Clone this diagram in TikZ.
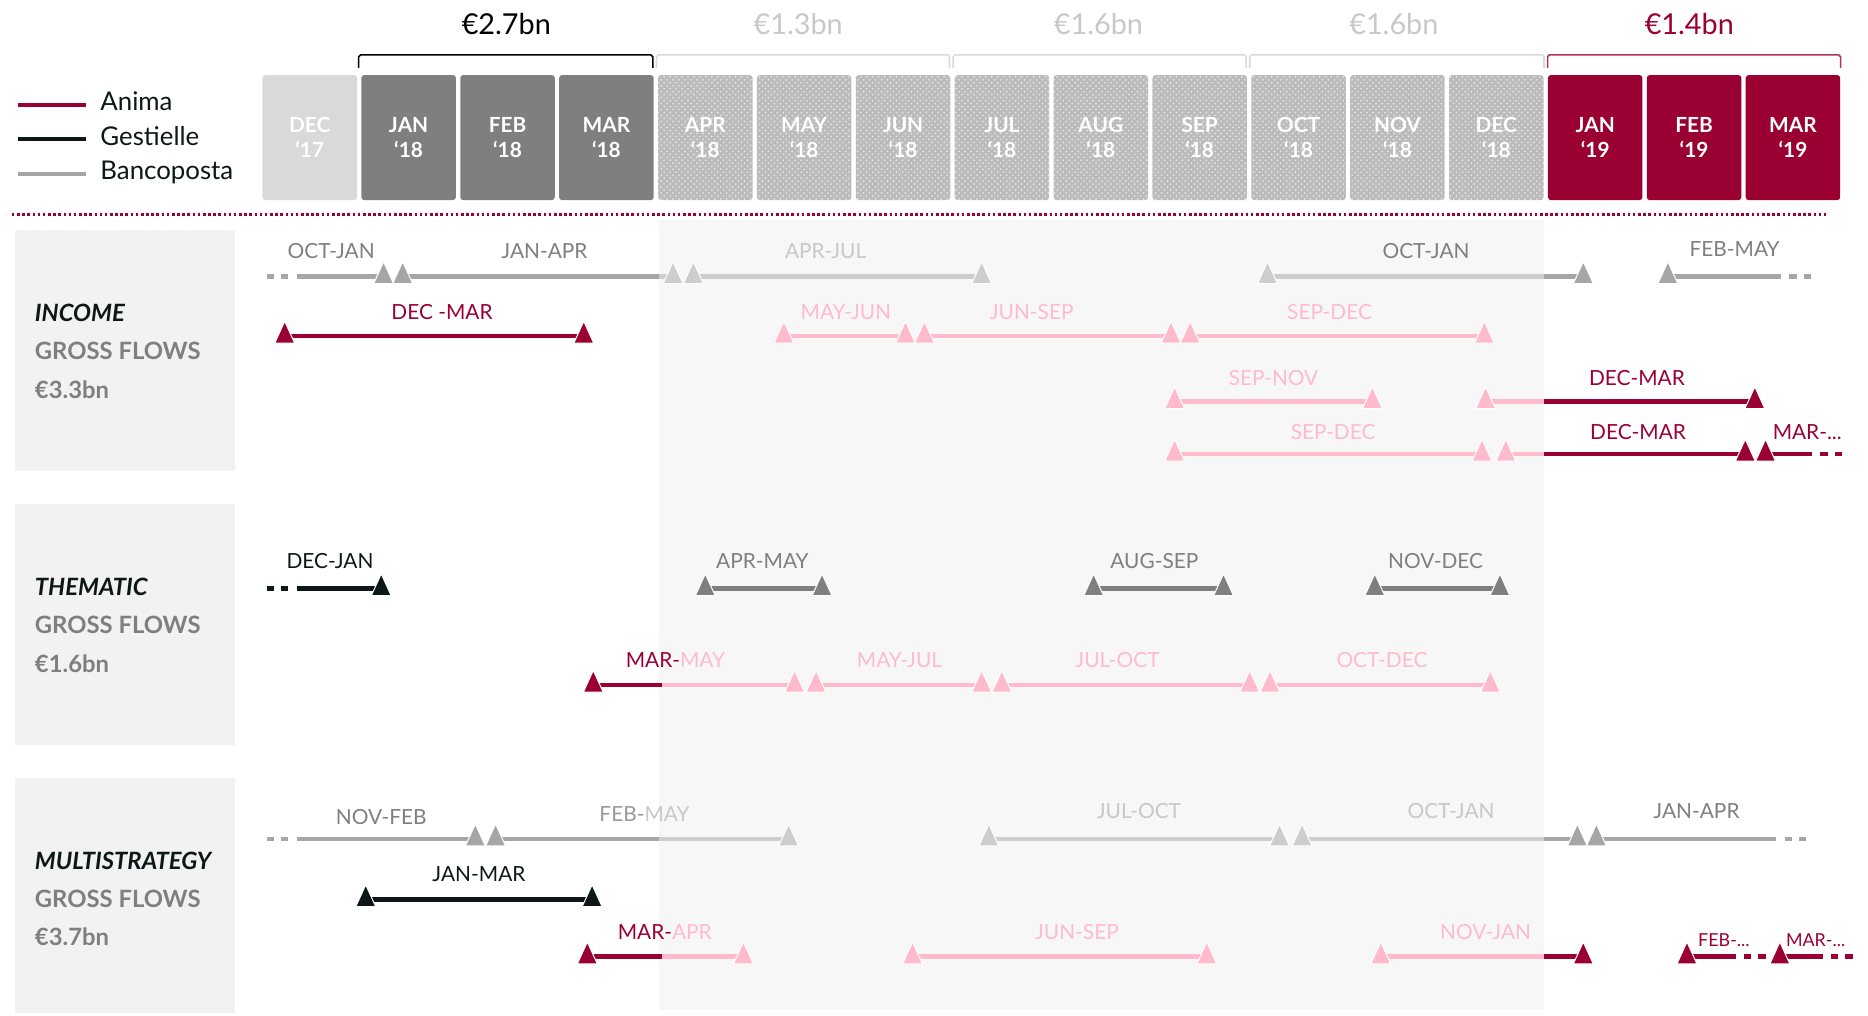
\documentclass[tikz,border=0pt]{standalone}
\usepackage{fontspec}
\setmainfont{Lato}
\usetikzlibrary{patterns}

\definecolor{anima}{HTML}{9B0033}
\definecolor{animafade}{HTML}{FFBBCB}
\definecolor{gest}{HTML}{0E1717}
\definecolor{gestfade}{HTML}{7F7F7F}
\definecolor{banco}{HTML}{A6A6A6}
\definecolor{bancofade}{HTML}{CDCDCD}
\definecolor{txtgray}{HTML}{7F7F7F}
\definecolor{txtfade}{HTML}{C8C8C8}
\definecolor{boxgray}{HTML}{F2F2F2}
\definecolor{monthdark}{HTML}{7F7F7F}
\definecolor{monthlight}{HTML}{D9D9D9}
\definecolor{monthhatch}{HTML}{BBBBBB}
\definecolor{shadebg}{HTML}{F7F7F7}

\newcommand{\flowfont}{\fontsize{10.5}{12}\selectfont}
\newcommand{\tinyflowfont}{\fontsize{9}{10}\selectfont}
\newcommand{\monthfont}{\bfseries\fontsize{10.5}{12.6}\selectfont}
\newcommand{\legfont}{\fontsize{13}{15}\selectfont}
\newcommand{\sumfont}{\fontsize{14.5}{17}\selectfont}
\newcommand{\rowfont}{\bfseries\fontsize{12}{15}\selectfont}

\pgfdeclarelayer{back}
\pgfsetlayers{back,main}

\tikzset{
  tri/.style={rectangle, inner sep=0pt, minimum width=16pt, minimum height=17pt,
    path picture={\fill[#1, draw=white, line width=0.5pt]
      ([yshift=7.4pt]path picture bounding box.center) -- ++(-5pt,-11pt) -- ++(10pt,0pt) -- cycle;}},
  tail/.style={dash pattern=on 3.6pt off 3.6pt on 3.6pt off 4.2pt on 300pt},
  bracket/.style={line width=0.8pt, rounded corners=1pt}
}

\begin{document}
\begin{tikzpicture}[x=0.6pt, y=-0.6pt]
        \tikzstyle{flow}=[line width=2.2pt]
        \tikzstyle{lbl}=[inner sep=0pt, font=\flowfont]
        \tikzstyle{month}=[rectangle, rounded corners=1.5pt, minimum width=47.6pt, minimum height=63pt, inner sep=0pt, align=center, text=white, font=\monthfont]
        \tikzstyle{hatched}=[preaction={fill=monthhatch}, pattern=crosshatch dots, pattern color=black!10]
        \tikzstyle{head}=[inner sep=0pt, font=\sumfont]
        \tikzstyle{rowtxt}=[inner sep=0pt, anchor=base west, font=\rowfont]

        \useasboundingbox (0,0) rectangle (1568,852);

        % shaded months and row panels
        \begin{pgfonlayer}{back}
        \fill[shadebg] (553,185) rectangle (1296,848);
        \end{pgfonlayer}
        \fill[boxgray] (13,193) rectangle (197,395);
        \fill[boxgray] (13,423) rectangle (197,625);
        \fill[boxgray] (13,653) rectangle (197,850);

        % totals
        \node[head, text=black] (sum1) at (425,20) {€2.7bn};
        \node[head, text=txtfade] (sum2) at (670,20) {€1.3bn};
        \node[head, text=txtfade] (sum3) at (922,20) {€1.6bn};
        \node[head, text=txtfade] (sum4) at (1170,20) {€1.6bn};
        \node[head, text=anima] (sum5) at (1418,20) {€1.4bn};
        \draw[bracket, black] (301,57) -- (301,46) -- (548,46) -- (548,57);
        \draw[bracket, monthlight] (551,57) -- (551,46) -- (797,46) -- (797,57);
        \draw[bracket, monthlight] (800,57) -- (800,46) -- (1046,46) -- (1046,57);
        \draw[bracket, monthlight] (1049,57) -- (1049,46) -- (1296,46) -- (1296,57);
        \draw[bracket, anima!80] (1299,57) -- (1299,46) -- (1545,46) -- (1545,57);

        % months
        \node[month, fill=monthlight] (m0) at (260,115.5) {DEC\\‘17};
        \node[month, fill=monthdark] (m1) at (343,115.5) {JAN\\‘18};
        \node[month, fill=monthdark] (m2) at (426,115.5) {FEB\\‘18};
        \node[month, fill=monthdark] (m3) at (509,115.5) {MAR\\‘18};
        \node[month, hatched] (m4) at (592,115.5) {APR\\‘18};
        \node[month, hatched] (m5) at (675,115.5) {MAY\\‘18};
        \node[month, hatched] (m6) at (758,115.5) {JUN\\‘18};
        \node[month, hatched] (m7) at (841,115.5) {JUL\\‘18};
        \node[month, hatched] (m8) at (924,115.5) {AUG\\‘18};
        \node[month, hatched] (m9) at (1007,115.5) {SEP\\‘18};
        \node[month, hatched] (m10) at (1090,115.5) {OCT\\‘18};
        \node[month, hatched] (m11) at (1173,115.5) {NOV\\‘18};
        \node[month, hatched] (m12) at (1256,115.5) {DEC\\‘18};
        \node[month, fill=anima] (m13) at (1339,115.5) {JAN\\‘19};
        \node[month, fill=anima] (m14) at (1422,115.5) {FEB\\‘19};
        \node[month, fill=anima] (m15) at (1505,115.5) {MAR\\‘19};
        \draw[anima, line width=1.4pt, dash pattern=on 1.3pt off 1.3pt] (10,180) -- (1533,180);

        % legend
        \draw[anima, line width=2pt] (15,88) -- (72,88);
        \draw[gest, line width=2pt] (15,117) -- (72,117);
        \draw[banco, line width=2pt] (15,146) -- (72,146);
        \node[anchor=base west, inner sep=0pt, font=\legfont, text=gest] (leg1) at (84,93) {Anima};
        \node[anchor=base west, inner sep=0pt, font=\legfont, text=gest] (leg2) at (84,122) {Gestielle};
        \node[anchor=base west, inner sep=0pt, font=\legfont, text=gest] (leg3) at (84,151) {Bancoposta};

        % row titles
        \node[rowtxt, text=gest, font=\rowfont\itshape] (inc) at (29,269.5) {INCOME};
        \node[rowtxt, text=txtgray] (incgf) at (29,301.5) {GROSS FLOWS};
        \node[rowtxt, text=txtgray] (incamt) at (29,334.5) {€3.3bn};
        \node[rowtxt, text=gest, font=\rowfont\itshape] (thm) at (29,499.5) {THEMATIC};
        \node[rowtxt, text=txtgray] (thmgf) at (29,531.5) {GROSS FLOWS};
        \node[rowtxt, text=txtgray] (thmamt) at (29,564.5) {€1.6bn};
        \node[rowtxt, text=gest, font=\rowfont\itshape] (mul) at (29,729.5) {MULTISTRATEGY};
        \node[rowtxt, text=txtgray] (mulgf) at (29,761.5) {GROSS FLOWS};
        \node[rowtxt, text=txtgray] (mulamt) at (29,793.5) {€3.7bn};

        % INCOME
        \coordinate (i1s) at (224,232);
        \coordinate (i1x) at (553,232);
        \coordinate (i1y) at (1296,232);
        \coordinate (i1t) at (1520,232);
        \node[tri=banco] (i1a) at (322,232) {};
        \node[tri=banco] (i1b) at (338,232) {};
        \node[tri=bancofade] (i1c) at (565,232) {};
        \node[tri=bancofade] (i1d) at (582,232) {};
        \node[tri=bancofade] (i1e) at (824,232) {};
        \node[tri=bancofade] (i1f) at (1064,232) {};
        \node[tri=banco] (i1g) at (1329,232) {};
        \node[tri=banco] (i1h) at (1400,232) {};
        \begin{pgfonlayer}{back}
        \draw[flow, banco, tail] (i1s) -- (i1a.center);
        \draw[flow, banco] (i1b.center) -- (i1x);
        \draw[flow, bancofade] (i1x) -- (i1c.center);
        \draw[flow, bancofade] (i1d.center) -- (i1e.center);
        \draw[flow, bancofade] (i1f.center) -- (i1y);
        \draw[flow, banco] (i1y) -- (i1g.center);
        \draw[flow, banco, tail] (i1t) -- (i1h.center);
        \end{pgfonlayer}
        \node[lbl, text=txtgray] (i1l1) at (278,211) {OCT-JAN};
        \node[lbl, text=txtgray] (i1l2) at (457,211) {JAN-APR};
        \node[lbl, text=txtfade] (i1l3) at (693,211) {APR-JUL};
        \node[lbl, text=txtgray] (i1l4) at (1197,211) {OCT-JAN};
        \node[lbl, text=txtgray] (i1l5) at (1456,209) {FEB-MAY};

        \node[tri=anima] (i2a) at (239,282) {};
        \node[tri=anima] (i2b) at (490,282) {};
        \node[tri=animafade] (i2c) at (658,282) {};
        \node[tri=animafade] (i2d) at (760,282) {};
        \node[tri=animafade] (i2e) at (776,282) {};
        \node[tri=animafade] (i2f) at (983,282) {};
        \node[tri=animafade] (i2g) at (999,282) {};
        \node[tri=animafade] (i2h) at (1246,282) {};
        \begin{pgfonlayer}{back}
        \draw[flow, anima] (i2a.center) -- (i2b.center);
        \draw[flow, animafade] (i2c.center) -- (i2d.center);
        \draw[flow, animafade] (i2e.center) -- (i2f.center);
        \draw[flow, animafade] (i2g.center) -- (i2h.center);
        \end{pgfonlayer}
        \node[lbl, text=anima] (i2l1) at (371,262) {DEC -MAR};
        \node[lbl, text=animafade] (i2l2) at (710,262) {MAY-JUN};
        \node[lbl, text=animafade] (i2l3) at (866,262) {JUN-SEP};
        \node[lbl, text=animafade] (i2l4) at (1116,262) {SEP-DEC};

        \coordinate (i3x) at (1296,337);
        \node[tri=animafade] (i3a) at (986,337) {};
        \node[tri=animafade] (i3b) at (1152,337) {};
        \node[tri=animafade] (i3c) at (1247,337) {};
        \node[tri=anima] (i3d) at (1473,337) {};
        \begin{pgfonlayer}{back}
        \draw[flow, animafade] (i3a.center) -- (i3b.center);
        \draw[flow, animafade] (i3c.center) -- (i3x);
        \draw[flow, anima] (i3x) -- (i3d.center);
        \end{pgfonlayer}
        \node[lbl, text=animafade] (i3l1) at (1069,317) {SEP-NOV};
        \node[lbl, text=anima] (i3l2) at (1374,317) {DEC-MAR};

        \coordinate (i4x) at (1296,381);
        \coordinate (i4t) at (1546,381);
        \node[tri=animafade] (i4a) at (986,381) {};
        \node[tri=animafade] (i4b) at (1244,381) {};
        \node[tri=animafade] (i4c) at (1264,381) {};
        \node[tri=anima] (i4d) at (1465,381) {};
        \node[tri=anima] (i4e) at (1482,381) {};
        \begin{pgfonlayer}{back}
        \draw[flow, animafade] (i4a.center) -- (i4b.center);
        \draw[flow, animafade] (i4c.center) -- (i4x);
        \draw[flow, anima] (i4x) -- (i4d.center);
        \draw[flow, anima, tail] (i4t) -- (i4e.center);
        \end{pgfonlayer}
        \node[lbl, text=animafade] (i4l1) at (1119,363) {SEP-DEC};
        \node[lbl, text=anima] (i4l2) at (1375,363) {DEC-MAR};
        \node[lbl, text=anima] (i4l3) at (1517,363) {MAR-...};

        % THEMATIC
        \coordinate (t1s) at (224,494);
        \node[tri=gest] (t1a) at (320,494) {};
        \node[tri=gestfade] (t1b) at (592,494) {};
        \node[tri=gestfade] (t1c) at (690,494) {};
        \node[tri=gestfade] (t1d) at (918,494) {};
        \node[tri=gestfade] (t1e) at (1027,494) {};
        \node[tri=gestfade] (t1f) at (1154,494) {};
        \node[tri=gestfade] (t1g) at (1259,494) {};
        \begin{pgfonlayer}{back}
        \draw[flow, gest, tail] (t1s) -- (t1a.center);
        \draw[flow, gestfade] (t1b.center) -- (t1c.center);
        \draw[flow, gestfade] (t1d.center) -- (t1e.center);
        \draw[flow, gestfade] (t1f.center) -- (t1g.center);
        \end{pgfonlayer}
        \node[lbl, text=gest] (t1l1) at (277,471) {DEC-JAN};
        \node[lbl, text=gestfade] (t1l2) at (640,471) {APR-MAY};
        \node[lbl, text=gestfade] (t1l3) at (969,471) {AUG-SEP};
        \node[lbl, text=gestfade] (t1l4) at (1205,471) {NOV-DEC};

        \coordinate (t2x) at (556,575);
        \node[tri=anima] (t2a) at (498,575) {};
        \node[tri=animafade] (t2b) at (667,575) {};
        \node[tri=animafade] (t2c) at (685,575) {};
        \node[tri=animafade] (t2d) at (824,575) {};
        \node[tri=animafade] (t2e) at (841,575) {};
        \node[tri=animafade] (t2f) at (1049,575) {};
        \node[tri=animafade] (t2g) at (1066,575) {};
        \node[tri=animafade] (t2h) at (1251,575) {};
        \begin{pgfonlayer}{back}
        \draw[flow, anima] (t2a.center) -- (t2x);
        \draw[flow, animafade] (t2x) -- (t2b.center);
        \draw[flow, animafade] (t2c.center) -- (t2d.center);
        \draw[flow, animafade] (t2e.center) -- (t2f.center);
        \draw[flow, animafade] (t2g.center) -- (t2h.center);
        \end{pgfonlayer}
        \node[lbl] (t2l1) at (567,554) {\textcolor{anima}{MAR-}\textcolor{animafade}{MAY}};
        \node[lbl, text=animafade] (t2l2) at (755,554) {MAY-JUL};
        \node[lbl, text=animafade] (t2l3) at (938,554) {JUL-OCT};
        \node[lbl, text=animafade] (t2l4) at (1160,554) {OCT-DEC};

        % MULTISTRATEGY
        \coordinate (ms1s) at (224,704);
        \coordinate (ms1x) at (553,704);
        \coordinate (ms1y) at (1296,704);
        \coordinate (ms1t) at (1516,704);
        \node[tri=banco] (ms1a) at (399,704) {};
        \node[tri=banco] (ms1b) at (416,704) {};
        \node[tri=bancofade] (ms1c) at (662,704) {};
        \node[tri=bancofade] (ms1d) at (830,704) {};
        \node[tri=bancofade] (ms1e) at (1074,704) {};
        \node[tri=bancofade] (ms1f) at (1093,704) {};
        \node[tri=banco] (ms1g) at (1324,704) {};
        \node[tri=banco] (ms1h) at (1340,704) {};
        \begin{pgfonlayer}{back}
        \draw[flow, banco, tail] (ms1s) -- (ms1a.center);
        \draw[flow, banco] (ms1b.center) -- (ms1x);
        \draw[flow, bancofade] (ms1x) -- (ms1c.center);
        \draw[flow, bancofade] (ms1d.center) -- (ms1e.center);
        \draw[flow, bancofade] (ms1f.center) -- (ms1y);
        \draw[flow, banco] (ms1y) -- (ms1g.center);
        \draw[flow, banco, tail] (ms1t) -- (ms1h.center);
        \end{pgfonlayer}
        \node[lbl, text=txtgray] (ms1l1) at (320,686) {NOV-FEB};
        \node[lbl] (ms1l2) at (541,683) {\textcolor{txtgray!80}{FEB-}\textcolor{txtfade}{MAY}};
        \node[lbl, text=txtfade] (ms1l3) at (956,681) {JUL-OCT};
        \node[lbl, text=txtfade] (ms1l4) at (1218,681) {OCT-JAN};
        \node[lbl, text=txtgray] (ms1l5) at (1424,681) {JAN-APR};

        \node[tri=gest] (ms2a) at (307,755) {};
        \node[tri=gest] (ms2b) at (497,755) {};
        \begin{pgfonlayer}{back}
        \draw[flow, gest] (ms2a.center) -- (ms2b.center);
        \end{pgfonlayer}
        \node[lbl, text=gest] (ms2l1) at (402,734) {JAN-MAR};

        \coordinate (ms3x) at (556,803);
        \coordinate (ms3y) at (1296,803);
        \coordinate (ms3t) at (1482,803);
        \coordinate (ms3u) at (1555,803);
        \node[tri=anima] (ms3a) at (493,803) {};
        \node[tri=animafade] (ms3b) at (624,803) {};
        \node[tri=animafade] (ms3c) at (766,803) {};
        \node[tri=animafade] (ms3d) at (1013,803) {};
        \node[tri=animafade] (ms3e) at (1159,803) {};
        \node[tri=anima] (ms3f) at (1329,803) {};
        \node[tri=anima] (ms3g) at (1416,803) {};
        \node[tri=anima] (ms3h) at (1494,803) {};
        \begin{pgfonlayer}{back}
        \draw[flow, anima] (ms3a.center) -- (ms3x);
        \draw[flow, animafade] (ms3x) -- (ms3b.center);
        \draw[flow, animafade] (ms3c.center) -- (ms3d.center);
        \draw[flow, animafade] (ms3e.center) -- (ms3y);
        \draw[flow, anima] (ms3y) -- (ms3f.center);
        \draw[flow, anima, tail] (ms3t) -- (ms3g.center);
        \draw[flow, anima, tail] (ms3u) -- (ms3h.center);
        \end{pgfonlayer}
        \node[lbl] (ms3l1) at (558,782) {\textcolor{anima}{MAR-}\textcolor{animafade}{APR}};
        \node[lbl, text=animafade] (ms3l2) at (904,782) {JUN-SEP};
        \node[lbl, text=animafade] (ms3l3) at (1247,782) {NOV-JAN};
        \node[lbl, text=anima, font=\tinyflowfont] (ms3l4) at (1447,789) {FEB-...};
        \node[lbl, text=anima, font=\tinyflowfont] (ms3l5) at (1524,789) {MAR-...};
    \end{tikzpicture}
\end{document}
